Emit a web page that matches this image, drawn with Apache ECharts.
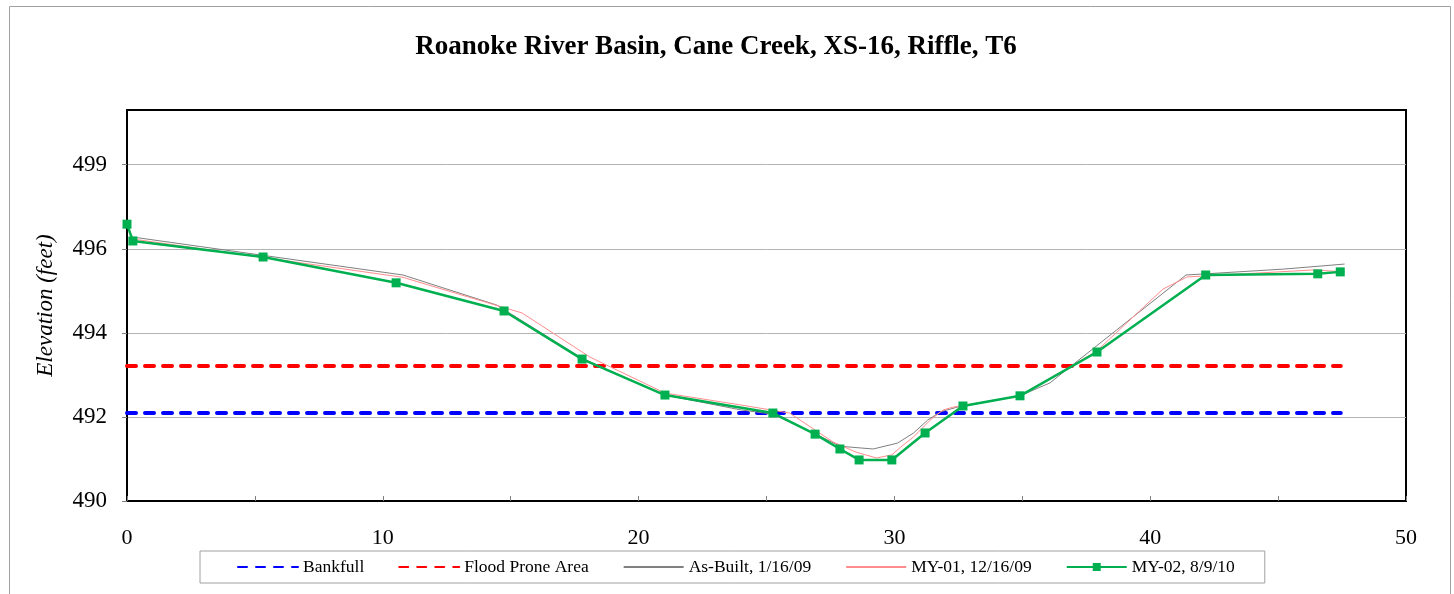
<!DOCTYPE html>
<html>
<head>
<meta charset="utf-8">
<script src="https://cdn.jsdelivr.net/npm/echarts@6/dist/echarts.min.js"></script>
<style>
html,body{margin:0;padding:0;background:#fff;}
#chart{width:1454px;height:594px;}
</style>
</head>
<body>
<div id="chart"></div>
<script>
// ---- Data ----
const chartTitle = 'Roanoke River Basin, Cane Creek, XS-16, Riffle, T6';
const yAxisName = 'Elevation (feet)';
const xTickLabels = ['0', '10', '20', '30', '40', '50'];
const yTickValues = [490, 492.15, 494.3, 496.45, 498.6];
const yTickLabels = ['490', '492', '494', '496', '499'];

const bankfullX = [0, 47.45];
const bankfullY = [492.25, 492.25];

const floodX = [0, 47.45];
const floodY = [493.45, 493.45];

const asBuiltX = [0.23, 10.79, 14.46, 17.79, 21.03, 24.0, 25.25, 26.9, 27.87, 29.17, 30.12, 30.75, 31.3, 31.8, 32.45, 34.91, 36.08, 38.68, 41.4, 45.2, 47.6];
const asBuiltY = [496.75, 495.78, 495.01, 493.65, 492.71, 492.33, 492.22, 491.72, 491.40, 491.33, 491.48, 491.74, 492.07, 492.28, 492.40, 492.69, 493.02, 494.37, 495.78, 495.93, 496.06];

const my01X = [0.23, 10.79, 14.46, 15.44, 18.1, 21.03, 23.96, 25.9, 27.6, 28.5, 29.3, 29.9, 30.25, 30.75, 31.4, 31.91, 32.3, 34.91, 37.9, 40.5, 41.44, 46.4, 47.6];
const my01Y = [496.70, 495.72, 495.00, 494.81, 493.68, 492.76, 492.46, 492.25, 491.51, 491.25, 491.10, 491.18, 491.38, 491.64, 492.07, 492.33, 492.40, 492.69, 493.83, 495.42, 495.73, 495.91, 495.86];

const my02X = [0, 0.23, 5.32, 10.52, 14.74, 17.79, 21.03, 25.25, 26.9, 27.87, 28.62, 29.9, 31.2, 32.68, 34.91, 37.92, 42.17, 46.55, 47.43];
const my02Y = [497.08, 496.65, 496.24, 495.58, 494.86, 493.63, 492.71, 492.25, 491.71, 491.33, 491.05, 491.05, 491.74, 492.43, 492.69, 493.81, 495.78, 495.81, 495.86];

const seriesNames = ['Bankfull', 'Flood Prone Area', 'As-Built, 1/16/09', 'MY-01, 12/16/09', 'MY-02, 8/9/10'];

function pairs(xs, ys) { return xs.map((x, i) => [x, ys[i]]); }

const serif = '"Liberation Serif", "Times New Roman", serif';

const chart = echarts.init(document.getElementById('chart'), null, {renderer: 'canvas'});
chart.setOption({
  animation: false,
  backgroundColor: '#fff',
  graphic: [
    { type: 'rect', z: -10, shape: { x: 9.5, y: 6.5, width: 1441, height: 640 },
      style: { fill: '#fff', stroke: '#a0a0a0', lineWidth: 1 } },
    { type: 'text', x: 716, y: 47, style: { text: chartTitle, font: 'bold 27px ' + serif,
      fill: '#000', textAlign: 'center', textVerticalAlign: 'middle' } }
  ],
  grid: { left: 127, right: 48, top: 110, bottom: 93, show: true, borderColor: '#000', borderWidth: 2, backgroundColor: 'transparent' },
  legend: {
    left: 200, top: 551,
    padding: [7, 30, 7, 37],
    itemWidth: 60, itemHeight: 10, itemGap: 34,
    borderColor: '#a0a0a0', borderWidth: 1,
    textStyle: { fontFamily: serif, fontSize: 17.5, color: '#000' },
    data: [
      { name: seriesNames[0], itemStyle: { opacity: 0 } },
      { name: seriesNames[1], itemStyle: { opacity: 0 } },
      { name: seriesNames[2], itemStyle: { opacity: 0 } },
      { name: seriesNames[3], itemStyle: { opacity: 0 } },
      { name: seriesNames[4] }
    ]
  },
  xAxis: {
    type: 'value', min: 0, max: 50, interval: 5,
    axisLine: { show: true, lineStyle: { color: '#000', width: 2 } },
    axisTick: { show: true, inside: true, length: 5, lineStyle: { color: '#808080' } },
    splitLine: { show: false },
    axisLabel: { margin: 26, fontFamily: serif, fontSize: 22, color: '#000',
      formatter: v => (Math.abs(v % 10) < 1e-6 ? xTickLabels[Math.round(v / 10)] : '') }
  },
  yAxis: {
    type: 'value', min: 490, max: 500, interval: 2.15,
    name: yAxisName, nameLocation: 'middle', nameGap: 70, nameRotate: 90,
    nameTextStyle: { fontFamily: serif, fontSize: 23, fontStyle: 'italic', color: '#000' },
    axisLine: { show: true, lineStyle: { color: '#000', width: 2 } },
    axisTick: { show: true, inside: false, length: 5, customValues: yTickValues, lineStyle: { color: '#808080' } },
    splitLine: { show: true, lineStyle: { color: '#b4b4b4', width: 1 } },
    axisLabel: { margin: 20, fontFamily: serif, fontSize: 23, color: '#000', customValues: yTickValues,
      formatter: v => { const i = yTickValues.findIndex(t => Math.abs(t - v) < 0.01); return i >= 0 ? yTickLabels[i] : ''; } }
  },
  series: [
    { name: seriesNames[0], type: 'line', data: pairs(bankfullX, bankfullY), symbol: 'none', z: 3,
      lineStyle: { color: '#0000ff', width: 4, type: [9, 9], cap: 'round' }, itemStyle: { color: '#0000ff' } },
    { name: seriesNames[1], type: 'line', data: pairs(floodX, floodY), symbol: 'none', z: 3,
      lineStyle: { color: '#ff0000', width: 4, type: [9, 9], cap: 'round' }, itemStyle: { color: '#ff0000' } },
    { name: seriesNames[2], type: 'line', data: pairs(asBuiltX, asBuiltY), symbol: 'none', z: 4,
      lineStyle: { color: '#808080', width: 1 }, itemStyle: { color: '#808080' } },
    { name: seriesNames[3], type: 'line', data: pairs(my01X, my01Y), symbol: 'none', z: 4,
      lineStyle: { color: '#ff8c8c', width: 1 }, itemStyle: { color: '#ff8c8c' } },
    { name: seriesNames[4], type: 'line', data: pairs(my02X, my02Y), symbol: 'rect', symbolSize: 9, z: 5,
      lineStyle: { color: '#00b050', width: 2.5 }, itemStyle: { color: '#00b050' } }
  ]
});
</script>
</body>
</html>
